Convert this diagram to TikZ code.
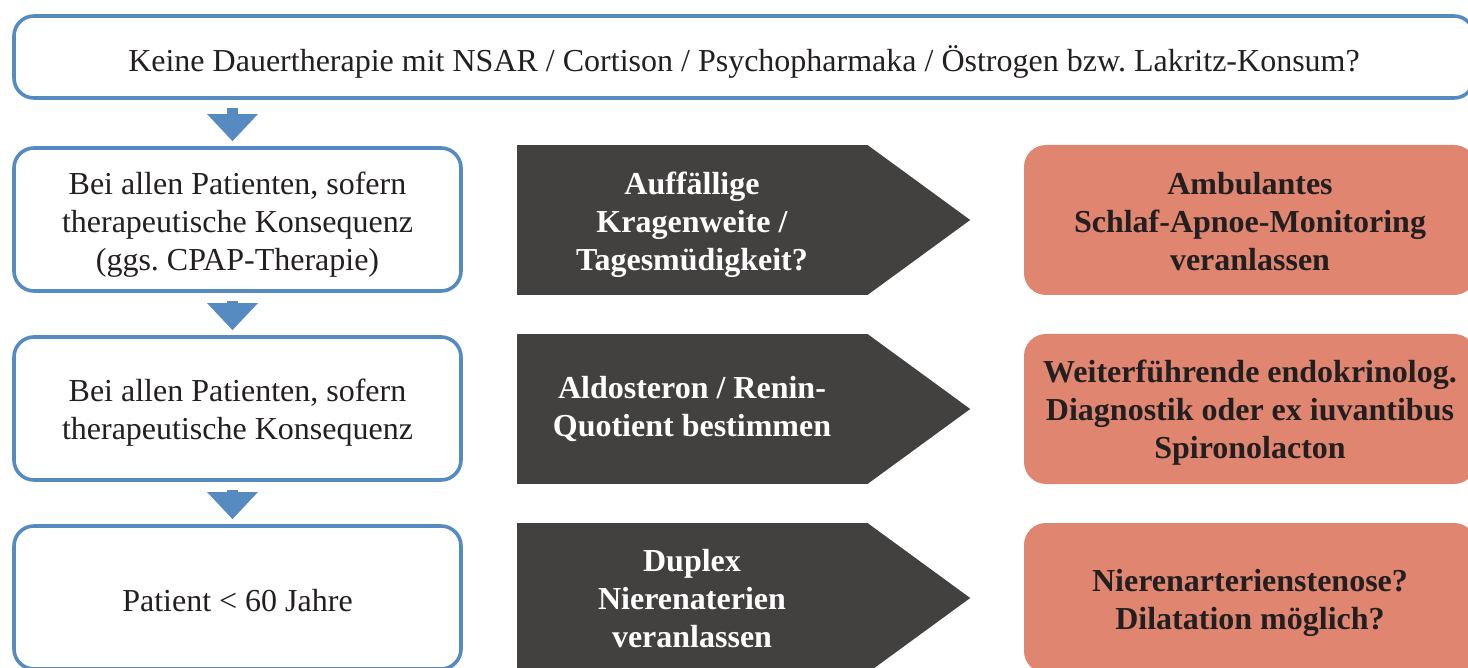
\documentclass[tikz,border=0pt]{standalone}
\usepackage{fontspec}
\setmainfont{Liberation Serif}
\usetikzlibrary{arrows.meta}
\definecolor{bblue}{HTML}{558BC1}
\definecolor{salmon}{HTML}{DF8570}
\definecolor{dgray}{HTML}{42413F}
\definecolor{txt}{HTML}{231F20}
\frenchspacing
\begin{document}
\begin{tikzpicture}[x=1pt,y=-1pt,
  bbox/.style={draw=bblue, line width=3.6pt, rounded corners=20pt, fill=white,
    minimum width=447pt, minimum height=143pt, inner sep=0pt},
  btext/.style={inner sep=0pt, align=center, text=txt, font=\fontsize{32}{38}\selectfont},
  darkbox/.style={fill=dgray, minimum width=350pt, minimum height=150pt, inner sep=0pt},
  dtext/.style={inner sep=0pt, align=center, text=white, font=\fontsize{32}{38}\selectfont\bfseries},
  salbox/.style={fill=salmon, rounded corners=22pt, minimum width=452pt, minimum height=150pt,
    inner sep=0pt},
  stext/.style={inner sep=0pt, align=center, text=txt, font=\fontsize{32}{38}\selectfont\bfseries},
  barrow/.style={draw=bblue, line width=11.5pt, shorten <=8pt, shorten >=5pt,
    -{Triangle[width=49pt,length=27pt]}}
]
\useasboundingbox (0,0) rectangle (1468,668);
\clip (0,0) rectangle (1468,668);

\node[bbox, minimum width=1460pt, minimum height=82pt] (top) at (744,57) {};
\node[btext] (topt) at ([yshift=-5pt]top.center)
  {Keine Dauertherapie mit NSAR / Cortison / Psychopharmaka / Östrogen bzw. Lakritz-Konsum?};

\node[bbox] (b2) at (237.5,219.5) {};
\node[bbox] (b3) at (237.5,408.5) {};
\node[bbox] (b4) at (237.5,597.5) {};
\node[btext] (b2t) at ([yshift=-5pt]b2.center) {Bei allen Patienten, sofern\\therapeutische Konsequenz\\(ggs. CPAP-Therapie)};
\node[btext] (b3t) at ([yshift=-4pt]b3.center) {Bei allen Patienten, sofern\\therapeutische Konsequenz};
\node[btext] (b4t) at ([yshift=-3pt]b4.center) {Patient < 60 Jahre};

\draw[barrow] ([xshift=-5pt]b2.north |- top.south) -- ([xshift=-5pt]b2.north);
\draw[barrow] ([xshift=-5pt]b2.south) -- ([xshift=-5pt]b3.north);
\draw[barrow] ([xshift=-5pt]b3.south) -- ([xshift=-5pt]b4.north);

\foreach \n/\y in {d1/220,d2/409,d3/598}{
  \node[darkbox] (\n) at (692,\y) {};
  \fill[dgray] (\n.north east) -- ([xshift=103pt]\n.east) -- (\n.south east) -- cycle;
}
\node[dtext] (t1) at ([yshift=-5pt]d1.center) {Auffällige\\Kragenweite /\\Tagesmüdigkeit?};
\node[dtext] (t2) at ([yshift=0pt]d2.center) {Aldosteron / Renin-\\Quotient bestimmen};
\node[dtext] (t3) at ([yshift=-1pt]d3.center) {Duplex\\Nierenaterien\\veranlassen};

\node[salbox] (s1) at (1250,220) {};
\node[salbox] (s2) at (1250,409) {};
\node[salbox] (s3) at (1250,598) {};
\node[stext] (s1t) at ([yshift=-2pt]s1.center) {Ambulantes\\Schlaf-Apnoe-Monitoring\\veranlassen};
\node[stext] (s2t) at ([yshift=-4pt]s2.center) {Weiterführende endokrinolog.\\Diagnostik oder ex iuvantibus\\Spironolacton};
\node[stext] (s3t) at ([yshift=-5pt]s3.center) {Nierenarterienstenose?\\Dilatation möglich?};
\end{tikzpicture}
\end{document}
